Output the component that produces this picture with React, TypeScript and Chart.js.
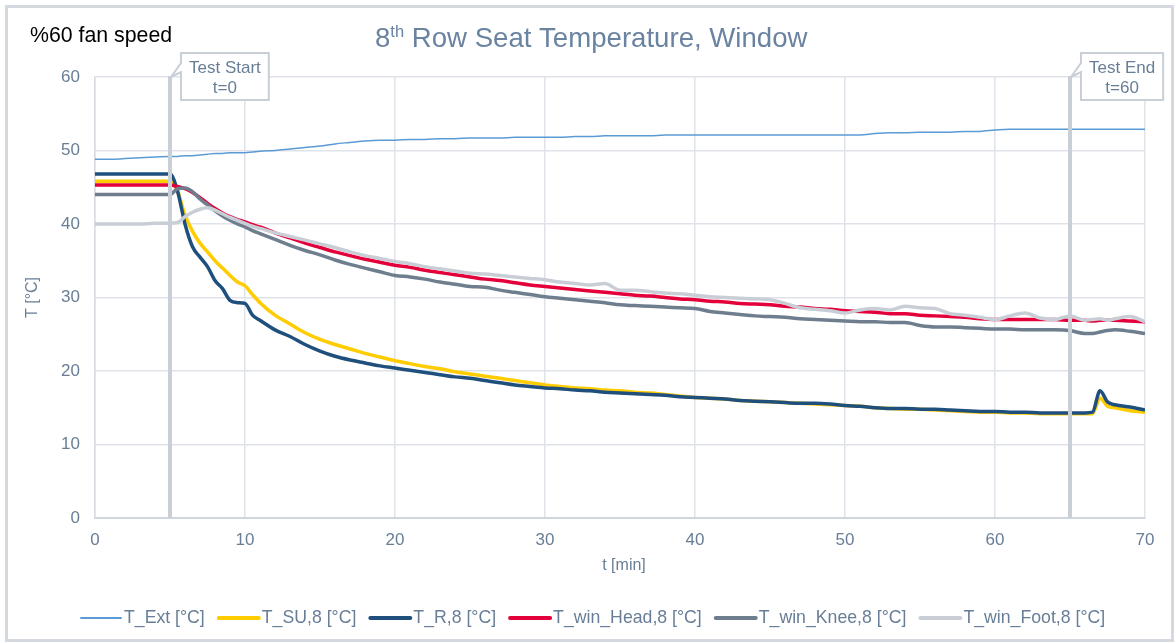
import { useEffect, useRef } from 'react';
import { Chart, registerables } from 'chart.js';

Chart.register(...registerables);

const FONT = '"Liberation Sans", Arial, sans-serif';
const TEXT_COLOR = '#687e97';

// time axis [min]
const time = [
  0, 1, 2, 3, 4, 5,
  5.5, 6, 6.5, 7, 7.5, 8, 8.5, 9, 9.5, 10, 10.5,
  11, 12, 13, 14, 15, 16, 17, 18, 19, 20,
  21, 22, 23, 24, 25, 26, 27, 28, 29, 30,
  31, 32, 33, 34, 35, 36, 37, 38, 39, 40,
  41, 42, 43, 44, 45, 46, 47, 48, 49, 50,
  51, 52, 53, 54, 55, 56, 57, 58, 59, 60,
  61, 62, 63, 64, 65, 66,
  66.5, 67, 67.5, 68, 69, 70,
];

const tExt = [
  48.8, 48.8, 48.9, 49.0, 49.1, 49.2,
  49.2, 49.3, 49.3, 49.4, 49.5, 49.6, 49.6, 49.7, 49.7, 49.7, 49.8,
  49.9, 50.0, 50.2, 50.4, 50.6, 50.9, 51.1, 51.3, 51.4, 51.4,
  51.5, 51.5, 51.6, 51.6, 51.7, 51.7, 51.7, 51.8, 51.8, 51.8,
  51.8, 51.9, 51.9, 52.0, 52.0, 52.0, 52.0, 52.1, 52.1, 52.1,
  52.1, 52.1, 52.1, 52.1, 52.1, 52.1, 52.1, 52.1, 52.1, 52.1,
  52.1, 52.3, 52.4, 52.4, 52.5, 52.5, 52.5, 52.6, 52.6, 52.8,
  52.9, 52.9, 52.9, 52.9, 52.9, 52.9,
  52.9, 52.9, 52.9, 52.9, 52.9, 52.9,
];

const tSU = [
  45.8, 45.8, 45.8, 45.8, 45.8, 45.8,
  44.5, 41.2, 39.0, 37.4, 36.2, 35.0, 34.0, 33.0, 32.1, 31.6, 30.4,
  29.3, 27.6, 26.4, 25.2, 24.3, 23.6, 23.0, 22.4, 21.9, 21.4,
  21.0, 20.6, 20.3, 19.9, 19.6, 19.3, 19.0, 18.7, 18.4, 18.1,
  17.9, 17.7, 17.6, 17.4, 17.3, 17.1, 17.0, 16.8, 16.6, 16.4,
  16.3, 16.2, 16.0, 15.9, 15.8, 15.7, 15.6, 15.5, 15.4, 15.3,
  15.2, 15.0, 14.9, 14.8, 14.8, 14.7, 14.6, 14.5, 14.4, 14.4,
  14.3, 14.3, 14.2, 14.2, 14.2, 14.2,
  14.2, 16.3, 15.2, 15.0, 14.6, 14.4,
];

const tR = [
  46.8, 46.8, 46.8, 46.8, 46.8, 46.8,
  44.5, 40.0, 36.9, 35.5, 34.2, 32.3, 31.2, 29.6, 29.3, 29.2, 27.6,
  26.9, 25.6, 24.7, 23.6, 22.7, 22.0, 21.5, 21.1, 20.7, 20.4,
  20.1, 19.8, 19.5, 19.2, 19.0, 18.7, 18.4, 18.1, 17.9, 17.7,
  17.6, 17.4, 17.3, 17.1, 17.0, 16.9, 16.8, 16.7, 16.5, 16.4,
  16.3, 16.2, 16.0, 15.9, 15.8, 15.7, 15.6, 15.6, 15.5, 15.3,
  15.2, 15.0, 14.9, 14.9, 14.8, 14.8, 14.7, 14.6, 14.5, 14.5,
  14.4, 14.4, 14.3, 14.3, 14.3, 14.3,
  14.4, 17.3, 15.8, 15.4, 15.1, 14.7,
];

const tHead = [
  45.3, 45.3, 45.3, 45.3, 45.3, 45.3,
  45.1, 44.8, 44.3, 43.6, 42.8, 42.1, 41.5, 41.0, 40.6, 40.3, 39.9,
  39.6, 38.8, 38.1, 37.4, 36.8, 36.2, 35.7, 35.2, 34.8, 34.4,
  34.1, 33.7, 33.4, 33.1, 32.8, 32.5, 32.3, 32.0, 31.7, 31.5,
  31.3, 31.1, 30.9, 30.7, 30.5, 30.3, 30.2, 30.0, 29.8, 29.7,
  29.5, 29.4, 29.2, 29.1, 29.0, 28.8, 28.7, 28.5, 28.4, 28.2,
  28.1, 28.0, 27.8, 27.8, 27.6, 27.5, 27.4, 27.3, 27.1, 27.0,
  27.0, 27.0, 27.0, 27.0, 26.9, 26.9,
  26.8, 26.9, 26.9, 26.9, 26.8, 26.7,
];

const tKnee = [
  44.0, 44.0, 44.0, 44.0, 44.0, 44.0,
  44.8, 44.9, 44.4, 43.4, 42.6, 41.8, 41.1, 40.5, 40.0, 39.6, 39.1,
  38.7, 37.9, 37.1, 36.4, 35.8, 35.1, 34.5, 34.0, 33.5, 33.0,
  32.8, 32.5, 32.1, 31.8, 31.5, 31.4, 31.0, 30.7, 30.4, 30.1,
  29.9, 29.7, 29.5, 29.3, 29.0, 28.9, 28.8, 28.7, 28.6, 28.5,
  28.1, 27.9, 27.7, 27.5, 27.4, 27.3, 27.1, 27.0, 26.9, 26.8,
  26.7, 26.7, 26.6, 26.6, 26.2, 26.0, 26.0, 25.9, 25.8, 25.7,
  25.7, 25.6, 25.6, 25.6, 25.5, 25.1,
  25.1, 25.3, 25.5, 25.6, 25.4, 25.1,
];

const tFoot = [
  40.0, 40.0, 40.0, 40.0, 40.1, 40.1,
  40.2, 41.0, 41.6, 42.0, 42.2, 41.9, 41.4, 40.9, 40.5, 40.1, 39.7,
  39.4, 38.8, 38.3, 37.8, 37.3, 36.8, 36.2, 35.7, 35.3, 34.9,
  34.6, 34.2, 33.9, 33.6, 33.3, 33.2, 33.0, 32.8, 32.6, 32.4,
  32.1, 31.9, 31.7, 31.9, 31.0, 31.0, 30.8, 30.6, 30.5, 30.3,
  30.1, 30.0, 29.9, 29.8, 29.7, 29.2, 28.6, 28.4, 28.2, 27.9,
  28.3, 28.5, 28.3, 28.8, 28.6, 28.5, 27.8, 27.6, 27.3, 27.0,
  27.5, 27.9, 27.2, 27.0, 27.5, 26.9,
  27.0, 27.1, 26.9, 27.1, 27.4, 26.7,
];

const seriesNames = [
  'T_Ext [°C]',
  'T_SU,8 [°C]',
  'T_R,8 [°C]',
  'T_win_Head,8 [°C]',
  'T_win_Knee,8 [°C]',
  'T_win_Foot,8 [°C]',
];
const seriesValues = [tExt, tSU, tR, tHead, tKnee, tFoot];
const seriesColors = ['#5b9bd5', '#ffcc00', '#1f4f7d', '#e4003b', '#6e7e8e', '#c9ced6'];
const seriesWidths = [1.5, 3.5, 3.5, 3.5, 3.5, 3.5];

const markerTimes = [5, 65];
const markerLabels = [
  ['Test Start', 't=0'],
  ['Test End', 't=60'],
];

const titleMain = '8';
const titleSup = 'th';
const titleRest = ' Row Seat Temperature, Window';
const subtitleText = '%60 fan speed';
const xAxisTitle = 't [min]';
const yAxisTitle = 'T [°C]';

const decorPlugin = {
  id: 'decor',
  beforeDraw(chart: any) {
    const ctx = chart.ctx;
    ctx.save();
    ctx.fillStyle = '#ffffff';
    ctx.fillRect(0, 0, chart.width, chart.height);
    ctx.strokeStyle = '#d4d9df';
    ctx.lineWidth = 3;
    ctx.strokeRect(6.5, 6.5, 1166, 634);
    ctx.restore();
  },
  afterDatasetsDraw(chart: any) {
    const ctx = chart.ctx;
    const area = chart.chartArea;
    const xs = chart.scales.x;
    ctx.save();
    markerTimes.forEach((t, i) => {
      const px = xs.getPixelForValue(t);
      ctx.strokeStyle = '#c9cfd7';
      ctx.lineWidth = 4;
      ctx.beginPath();
      ctx.moveTo(px, area.top - 1);
      ctx.lineTo(px, area.bottom);
      ctx.stroke();

      // callout
      ctx.font = `17px ${FONT}`;
      const lines = markerLabels[i];
      const tw = Math.max(...lines.map((l) => ctx.measureText(l).width));
      const bx = px + 11;
      const bw = tw + 16;
      const by = area.top - 24;
      const bh = 47;
      ctx.beginPath();
      ctx.moveTo(bx, by);
      ctx.lineTo(bx + bw, by);
      ctx.lineTo(bx + bw, by + bh);
      ctx.lineTo(bx, by + bh);
      ctx.lineTo(bx, by + 19);
      ctx.lineTo(px + 1, area.top);
      ctx.lineTo(bx, by + 10);
      ctx.closePath();
      ctx.fillStyle = '#ffffff';
      ctx.fill();
      ctx.strokeStyle = '#c9cfd7';
      ctx.lineWidth = 2;
      ctx.stroke();
      ctx.fillStyle = TEXT_COLOR;
      ctx.textAlign = 'center';
      ctx.textBaseline = 'alphabetic';
      ctx.fillText(lines[0], bx + bw / 2, by + 20);
      ctx.fillText(lines[1], bx + bw / 2, by + 40);
    });
    ctx.restore();
  },
  afterDraw(chart: any) {
    const ctx = chart.ctx;
    const area = chart.chartArea;
    ctx.save();
    // subtitle
    ctx.fillStyle = '#000000';
    ctx.font = `21.3px ${FONT}`;
    ctx.textAlign = 'left';
    ctx.textBaseline = 'alphabetic';
    ctx.fillText(subtitleText, 30, 42);

    // title with superscript
    ctx.fillStyle = '#6a83a0';
    let x = 375;
    const base = 47;
    ctx.font = `27.6px ${FONT}`;
    ctx.fillText(titleMain, x, base);
    x += ctx.measureText(titleMain).width;
    ctx.font = `16.5px ${FONT}`;
    ctx.fillText(titleSup, x, base - 10);
    x += ctx.measureText(titleSup).width;
    ctx.font = `27.6px ${FONT}`;
    ctx.fillText(titleRest, x, base);

    // axis titles
    ctx.fillStyle = TEXT_COLOR;
    ctx.font = `16px ${FONT}`;
    ctx.textAlign = 'center';
    ctx.textBaseline = 'middle';
    ctx.fillText(xAxisTitle, (area.left + area.right) / 2 + 4, 566);
    ctx.save();
    ctx.translate(33, (area.top + area.bottom) / 2);
    ctx.rotate(-Math.PI / 2);
    ctx.fillText(yAxisTitle, 0, 0);
    ctx.restore();

    // legend
    ctx.font = `17.7px ${FONT}`;
    ctx.textAlign = 'left';
    const lineLen = 40;
    const gapLT = 3;
    const gapItem = 14;
    const widths = seriesNames.map((n) => ctx.measureText(n).width);
    let lx = 81;
    const ly = 618;
    seriesNames.forEach((n, i) => {
      ctx.strokeStyle = seriesColors[i];
      ctx.lineWidth = i === 0 ? 2 : 4;
      ctx.lineCap = 'round';
      ctx.beginPath();
      ctx.moveTo(lx, ly);
      ctx.lineTo(lx + lineLen, ly);
      ctx.stroke();
      lx += lineLen + gapLT;
      ctx.fillStyle = TEXT_COLOR;
      ctx.textBaseline = 'middle';
      ctx.fillText(n, lx, ly);
      lx += widths[i] + gapItem;
    });
    ctx.restore();
  },
};

export default function App() {
  const canvasRef = useRef<HTMLCanvasElement | null>(null);

  useEffect(() => {
    const canvas = canvasRef.current;
    if (!canvas) return;
    const datasets = seriesNames.map((name, i) => ({
      label: name,
      data: time.map((t, j) => ({ x: t, y: seriesValues[i][j] })),
      borderColor: seriesColors[i],
      backgroundColor: seriesColors[i],
      borderWidth: seriesWidths[i],
      pointRadius: 0,
      cubicInterpolationMode: 'monotone' as const,
      fill: false,
      order: seriesNames.length - i,
      borderJoinStyle: 'round' as const,
    }));

    const chart = new Chart(canvas, {
      type: 'line',
      data: { datasets },
      plugins: [decorPlugin],
      options: {
        animation: false,
        responsive: false,
        maintainAspectRatio: false,
        layout: { padding: { left: 55, top: 77, right: 31, bottom: 85 } },
        plugins: {
          legend: { display: false },
          title: { display: false },
          tooltip: { enabled: false },
        },
        scales: {
          x: {
            type: 'linear',
            min: 0,
            max: 70,
            ticks: {
              stepSize: 10,
              color: TEXT_COLOR,
              font: { family: FONT, size: 17 },
              padding: 12,
              maxRotation: 0,
            },
            grid: { color: '#dfe3e9', lineWidth: 1.5, drawTicks: false },
            border: { display: true, color: '#d0d6de', width: 2 },
            afterFit: (s: any) => {
              s.height = 40;
            },
          },
          y: {
            type: 'linear',
            min: 0,
            max: 60,
            ticks: {
              stepSize: 10,
              color: TEXT_COLOR,
              font: { family: FONT, size: 17 },
              padding: 15,
            },
            grid: { color: '#dfe3e9', lineWidth: 1.5, drawTicks: false },
            border: { display: true, color: '#d7dce3', width: 1.5 },
            afterFit: (s: any) => {
              s.width = 40;
            },
          },
        },
      },
    });
    return () => chart.destroy();
  }, []);

  return (
    <div style={{ position: 'fixed', left: 0, top: 0, width: 1176, height: 643, background: '#fff' }}>
      <canvas ref={canvasRef} width={1176} height={643} style={{ display: 'block', width: 1176, height: 643 }} />
    </div>
  );
}
